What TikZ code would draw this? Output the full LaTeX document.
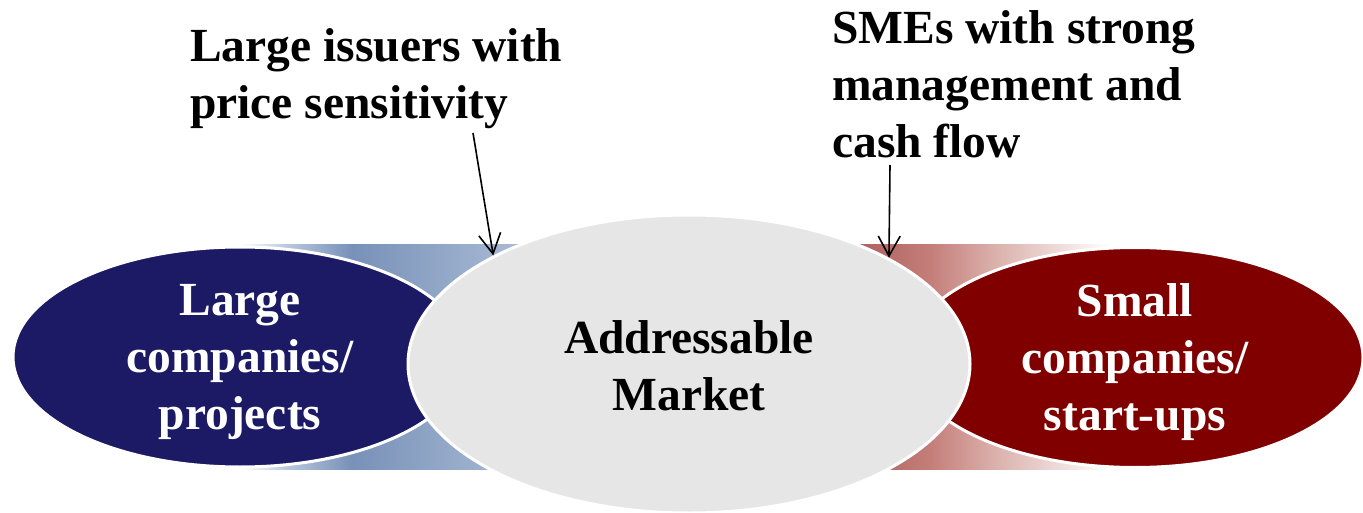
\documentclass[tikz,border=0pt]{standalone}
\usepackage{fontspec}
\setmainfont{Liberation Serif}
\usetikzlibrary{shapes.geometric,arrows.meta}
\definecolor{navy}{RGB}{28,26,100}
\definecolor{maroon}{RGB}{128,0,0}
\definecolor{centergray}{RGB}{230,230,230}
\pgfdeclarehorizontalshading{blueband}{100bp}{%
  color(0bp)=(white); color(25bp)=(white);
  color(34bp)=(rgb,255:red,180;green,196;blue,220);
  color(45bp)=(rgb,255:red,120;green,145;blue,184);
  color(75bp)=(rgb,255:red,169;green,187;blue,213);
  color(100bp)=(rgb,255:red,169;green,187;blue,213)}
\pgfdeclarehorizontalshading{redband}{100bp}{%
  color(0bp)=(rgb,255:red,168;green,90;blue,90);
  color(25bp)=(rgb,255:red,168;green,90;blue,90);
  color(41.7bp)=(rgb,255:red,196;green,126;blue,121);
  color(52.8bp)=(rgb,255:red,217;green,173;blue,168);
  color(63.9bp)=(rgb,255:red,235;green,214;blue,211);
  color(75bp)=(white); color(100bp)=(white)}
\tikzset{
  bigtext/.style={font=\bfseries\fontsize{47.5}{57}\selectfont, inner sep=0pt},
  oval/.style={ellipse, draw=white, line width=3pt, inner sep=0pt},
  pointer/.style={draw=black, line width=1.6pt, -{Straight Barb[length=20pt,width=22pt,line width=1.6pt]}}
}
\begin{document}
\begin{tikzpicture}[x=1pt,y=-1pt]
\useasboundingbox (0,0) rectangle (1363,513);
% gradient bands
\shade[shading=blueband] (240,245) rectangle (520,469);
\shade[shading=redband] (840,245) rectangle (1110,469);
% side ellipses
\node[oval, fill=navy, minimum width=454pt, minimum height=220pt] (L) at (240,357) {};
\node[oval, fill=maroon, minimum width=456pt, minimum height=220pt] (R) at (1135,357.5) {};
% center ellipse
\node[oval, fill=centergray, minimum width=562pt, minimum height=298pt] (C) at (689,364) {};
% texts
\node[bigtext, text=white, align=center] (Lt) at (240,362) {Large\\companies/\\projects};
\node[bigtext, text=white, align=center] (Rt) at (1135,362) {Small\\companies/\\start-ups};
\node[bigtext, text=black, align=center] (Ct) at (689,366) {Addressable\\Market};
\node[bigtext, text=black, align=left, anchor=west] (T1) at (190,79) {Large issuers with\\price sensitivity};
\node[bigtext, text=black, align=left, anchor=west] (T2) at (832,84) {SMEs with strong\\management and\\cash flow};
% arrows
\coordinate (a1) at (473,133);
\coordinate (a2) at (890,165);
\draw[pointer] (a1) -- (C.151.7);
\draw[pointer] (a2) -- (C.28.3);
\end{tikzpicture}
\end{document}
